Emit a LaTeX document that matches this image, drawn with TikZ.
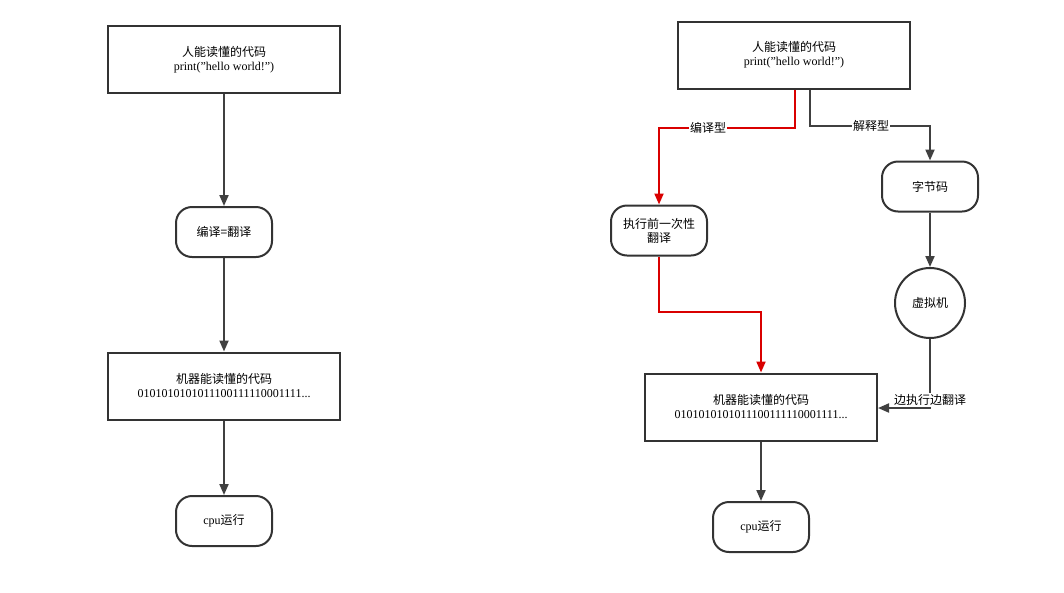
\documentclass[tikz,border=0pt]{standalone}
\usepackage{fontspec}
\setmainfont{Liberation Serif}
\newfontfamily\cjk{Noto Sans CJK SC}
\usetikzlibrary{arrows.meta}
\newcommand{\dq}{\symbol{34}}
\begin{document}
\begin{tikzpicture}[x=1pt,y=-1pt,
  box/.style={draw=black!80,line width=2pt,minimum width=232pt,minimum height=67pt,align=center,font=\fontsize{12}{14}\selectfont},
  pill/.style={draw=black!80,line width=2pt,rounded corners=16pt,minimum width=96pt,minimum height=50pt,align=center,font=\fontsize{12}{14}\selectfont},
  arr/.style={draw=black!75,line width=2pt,-{Triangle[length=11pt,width=9pt]}},
  rarr/.style={draw=red!85!black,line width=2pt,-{Triangle[length=11pt,width=9pt]}},
  lab/.style={fill=white,inner sep=1pt,font=\cjk\fontsize{12}{14}\selectfont}]
\useasboundingbox (0,0) rectangle (1064,592);
% left
\node[box] (a1) at (224,59.5) {{\cjk 人能读懂的代码}\\print(\dq hello world!\dq)};
\node[pill] (a2) at (224,232) {\cjk 编译=翻译};
\node[box] (a3) at (224,386) {{\cjk 机器能读懂的代码}\\0101010101011100111110001111...};
\node[pill] (a4) at (224,521) {{cpu\cjk 运行}};
\draw[arr] (a1) -- (a2);
\draw[arr] (a2) -- (a3);
\draw[arr] (a3) -- (a4);
% right
\node[box] (b1) at (794,55) {{\cjk 人能读懂的代码}\\print(\dq hello world!\dq)};
\node[pill] (b2) at (659,230.5) {\cjk 执行前一次性\\\cjk 翻译};
\node[pill] (b3) at (930,186.5) {\cjk 字节码};
\node[circle,draw=black!80,line width=2pt,minimum size=70pt,font=\cjk\fontsize{12}{14}\selectfont] (b4) at (930,303) {虚拟机};
\node[box] (b5) at (761,407) {{\cjk 机器能读懂的代码}\\0101010101011100111110001111...};
\node[pill] (b6) at (761,527) {{cpu\cjk 运行}};
\draw[rarr] (b1.south -| 795,0) |- (659,128) -- (b2.north);
\node[lab] at (708,128) {编译型};
\draw[arr] (b1.south -| 810,0) |- (930,126) -- (b3.north);
\node[lab] at (871,126) {解释型};
\draw[arr] (b3) -- (b4);
\draw[rarr] (b2.south) |- (761,312) -- (b5.north);
\draw[arr] (b4.south) |- (b5.east |- 0,408);
\node[lab] at (930,400) {边执行边翻译};
\draw[arr] (b5) -- (b6);
\end{tikzpicture}
\end{document}
